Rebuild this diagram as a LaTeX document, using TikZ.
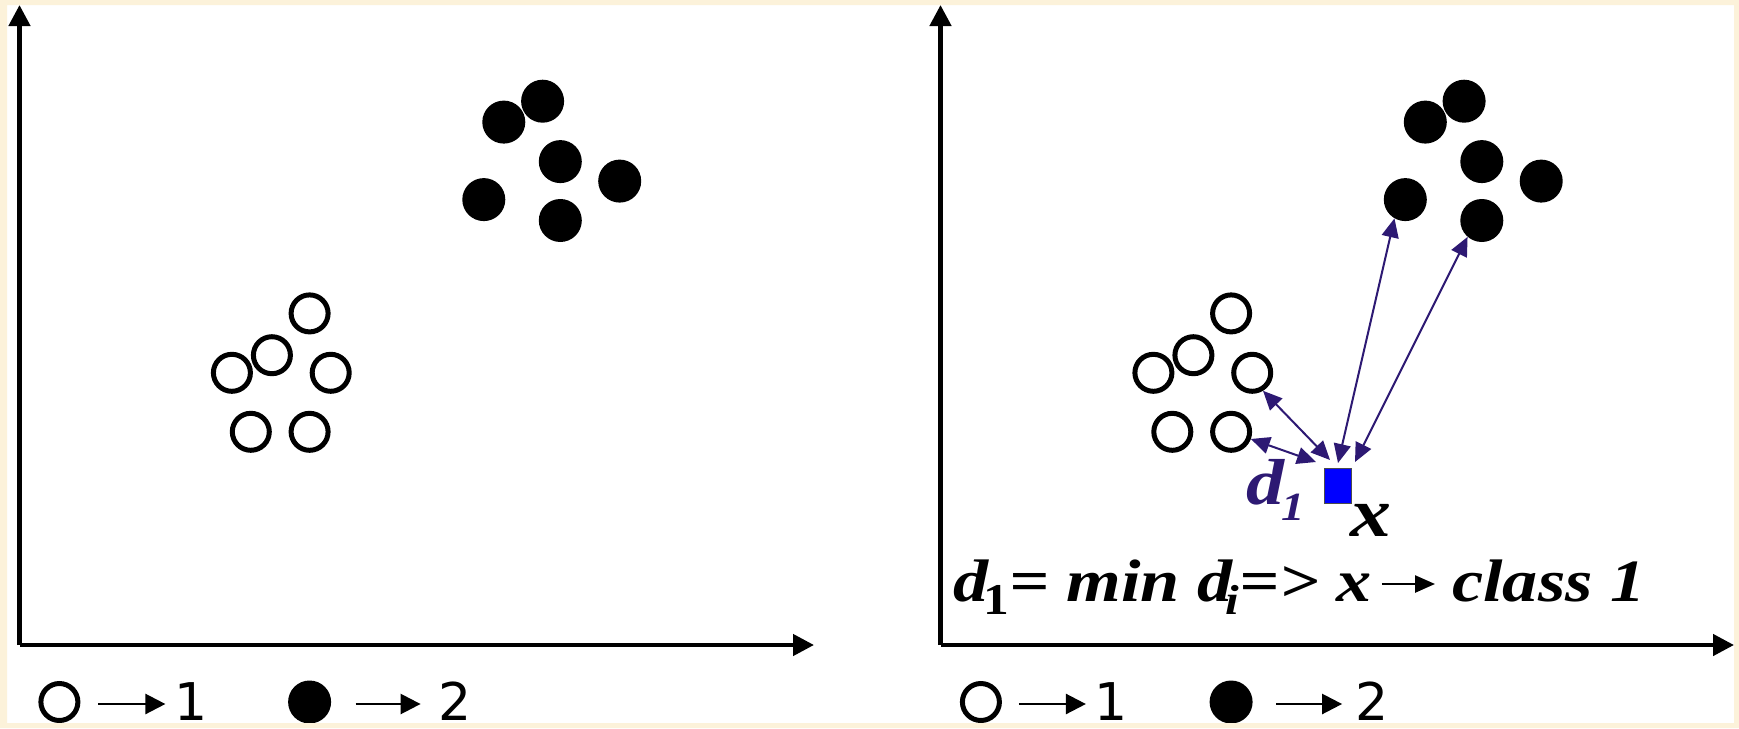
\documentclass[tikz,border=0pt]{standalone}
\usepackage{fontspec}
\setmainfont{Liberation Serif}
\newfontfamily\tbi[FakeStretch=1.17]{Liberation Serif}
\newfontfamily\lsans{DejaVu Sans}
\usetikzlibrary{arrows.meta,calc}
\definecolor{cream}{RGB}{252,242,218}
\definecolor{navy}{RGB}{45,25,115}
\definecolor{pureblue}{RGB}{0,0,255}
\begin{document}
\begin{tikzpicture}[x=1pt,y=-1pt,
  axis/.style={line width=4.5pt, -{Triangle[length=21pt,width=21pt]}},
  opc/.style={circle, draw, line width=5pt, minimum size=37pt, inner sep=0pt},
  fic/.style={circle, fill, minimum size=43pt, inner sep=0pt},
  dist/.style={navy, line width=2pt, {Triangle[length=19pt,width=17pt]}-{Triangle[length=19pt,width=17pt]}},
  legarr/.style={line width=2.5pt, -{Triangle[length=20pt,width=20pt]}},
  num/.style={font={\lsans\fontsize{52}{52}\selectfont}, inner sep=0pt, anchor=base},
  bi/.style={font={\tbi\bfseries\itshape\fontsize{#1}{#1}\selectfont}, inner sep=0pt, anchor=base west},
  sq/.style={rectangle, draw=black!70, line width=1pt, fill=pureblue, minimum width=27pt, minimum height=35pt, inner sep=0pt}
]
\useasboundingbox (0,0) rectangle (1739,728);
\fill[white] (0,0) rectangle (1739,728);

% ---------- left panel ----------
\coordinate (O1) at (19.5,645);
\coordinate (Y1) at (19.5,5);
\coordinate (X1) at (814,645);
\draw[axis] (O1) -- (Y1);
\draw[axis] (O1) -- (X1);

\node[fic] (f1) at (542.6,101.2) {};
\node[fic] (f2) at (503.8,122.1) {};
\node[fic] (f3) at (560.3,161.6) {};
\node[fic] (f4) at (619.7,181.1) {};
\node[fic] (f5) at (483.8,199.6) {};
\node[fic] (f6) at (560.3,220.5) {};

\node[opc] (o1) at (309.6,313.4) {};
\node[opc] (o2) at (271.9,355.2) {};
\node[opc] (o3) at (231.9,372.8) {};
\node[opc] (o4) at (330.7,372.8) {};
\node[opc] (o5) at (250.8,431.8) {};
\node[opc] (o6) at (309.6,431.8) {};

% legend left
\node[opc] (lo1) at (59.4,702) {};
\node[num] (ln1) at (191,720) {1};
\draw[legarr] ($(lo1.center)+(39,2)$) -- ($(lo1.center)+(106,2)$);
\node[fic] (lf2) at (309.6,702) {};
\node[num] (ln2) at (455,720) {2};
\draw[legarr] ($(lf2.center)+(46,2)$) -- ($(lf2.center)+(111,2)$);

% ---------- right panel ----------
\coordinate (O2) at (940.5,645);
\coordinate (Y2) at (940.5,5);
\coordinate (X2) at (1734,645);
\draw[axis] (O2) -- (Y2);
\draw[axis] (O2) -- (X2);

\node[fic] (g1) at (1464.1,101.2) {};
\node[fic] (g2) at (1425.3,122.1) {};
\node[fic] (g3) at (1481.8,161.6) {};
\node[fic] (g4) at (1541.2,181.1) {};
\node[fic] (g5) at (1405.3,199.6) {};
\node[fic] (g6) at (1481.8,220.5) {};

\node[opc] (p1) at (1231.1,313.4) {};
\node[opc] (p2) at (1193.4,355.2) {};
\node[opc] (p3) at (1153.4,372.8) {};
\node[opc] (p4) at (1252.2,372.8) {};
\node[opc] (p5) at (1172.3,431.8) {};
\node[opc] (p6) at (1231.1,431.8) {};

\node[sq] (xq) at (1337.5,485.5) {};

\draw[dist] (p4.-59) -- ($(xq.center)+(-7.5,-25.5)$);
\draw[dist] (p6.-20) -- ($(xq.center)+(-21.5,-23.5)$);
\draw[dist] (g5.240) -- ($(xq.center)+(0.5,-22.5)$);
\draw[dist] (g6.229) -- ($(xq.center)+(17.5,-23.5)$);

\node[bi=65, text=navy] (dl) at (1246,504) {d\kern-3pt\raisebox{-16pt}{\fontsize{40}{40}\selectfont 1}};
\node[bi=70] (xl) at (1350,536) {x};

\node[bi=60] (fx) at (953,601) {d\kern-5pt\raisebox{-13pt}{\upshape\fontsize{44}{44}\selectfont 1}= min d\kern-7pt\raisebox{-13pt}{\fontsize{42}{42}\selectfont i}=> x};
\node[bi=60] (fc) at (1452,601) {class 1};
\draw[line width=2.5pt, -{Triangle[length=20pt,width=17pt]}] ($(fx.base east)+(10,-17)$) -- ($(fc.base west)+(-17,-17)$);

% legend right
\node[opc] (ro1) at (980.9,702) {};
\node[num] (rn1) at (1111,720) {1};
\draw[legarr] ($(ro1.center)+(38,2)$) -- ($(ro1.center)+(105,2)$);
\node[fic] (rf2) at (1231.1,702) {};
\node[num] (rn2) at (1372,720) {2};
\draw[legarr] ($(rf2.center)+(45,2)$) -- ($(rf2.center)+(111,2)$);

% cream frame
\fill[cream, even odd rule] (0,0) rectangle (1739,728) (7,5) rectangle (1734,723);
\end{tikzpicture}
\end{document}
